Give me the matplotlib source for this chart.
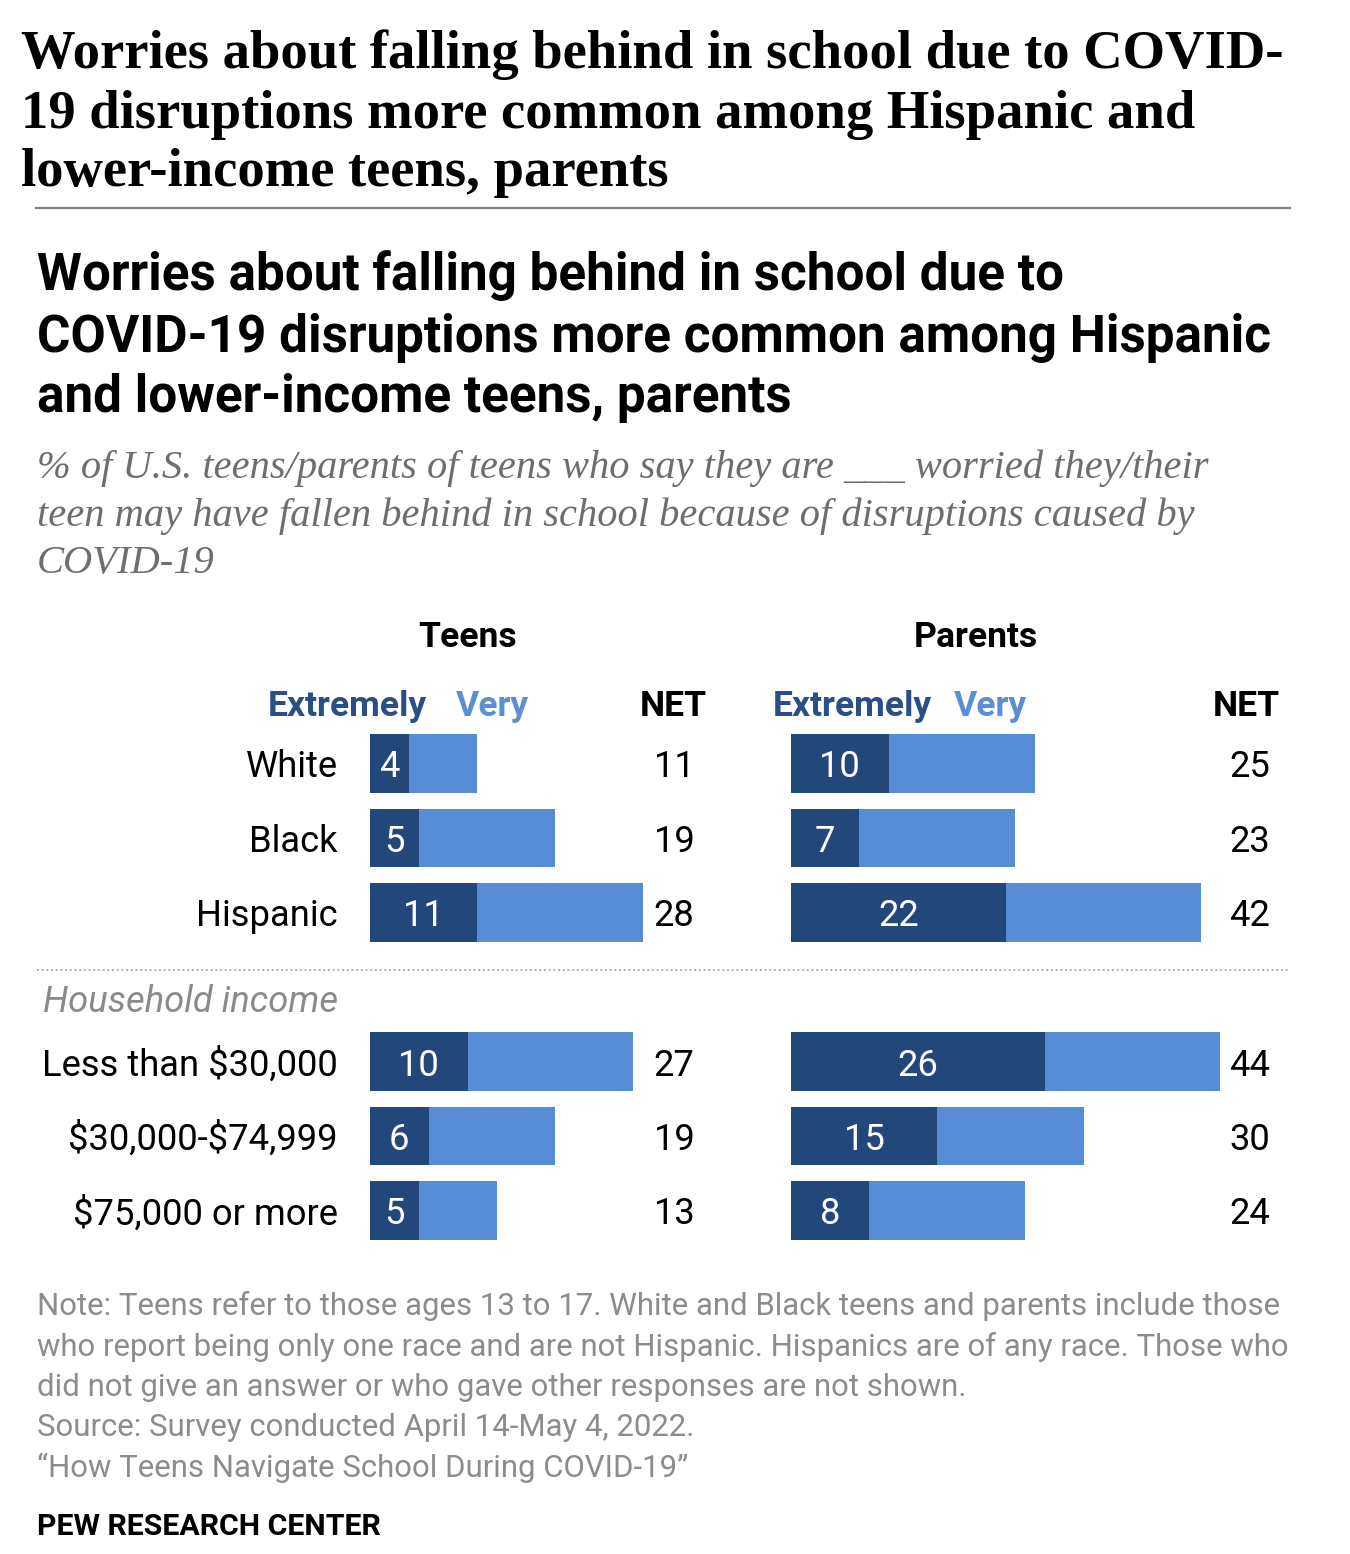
import matplotlib
matplotlib.use("Agg")
import matplotlib.pyplot as plt
from matplotlib.lines import Line2D

# ---------------- data ----------------
groups = ["White", "Black", "Hispanic",
          "Less than $30,000", "$30,000-$74,999", "$75,000 or more"]
teens_extremely = [4, 5, 11, 10, 6, 5]
teens_very = [7, 14, 17, 17, 13, 8]
teens_net = [11, 19, 28, 27, 19, 13]
parents_extremely = [10, 7, 22, 26, 15, 8]
parents_very = [15, 16, 20, 18, 15, 16]
parents_net = [25, 23, 42, 44, 30, 24]
row_pos = [0, 1, 2, 4, 5, 6]

headline = ["Worries about falling behind in school due to COVID-",
            "19 disruptions more common among Hispanic and",
            "lower-income teens, parents"]
title = ["Worries about falling behind in school due to",
         "COVID-19 disruptions more common among Hispanic",
         "and lower-income teens, parents"]
subtitle = ["% of U.S. teens/parents of teens who say they are ___ worried they/their",
            "teen may have fallen behind in school because of disruptions caused by",
            "COVID-19"]
notes = ["Note: Teens refer to those ages 13 to 17. White and Black teens and parents include those",
         "who report being only one race and are not Hispanic. Hispanics are of any race. Those who",
         "did not give an answer or who gave other responses are not shown.",
         "Source: Survey conducted April 14-May 4, 2022.",
         "\u201cHow Teens Navigate School During COVID-19\u201d"]

DARK = "#22477b"
LIGHT = "#568dd4"
DARK_TXT = "#2a4f87"
LIGHT_TXT = "#5a8fd6"

W, H, DPI = 1350, 1554, 100
fig = plt.figure(figsize=(W / DPI, H / DPI), dpi=DPI)
fig.patch.set_facecolor("white")
renderer = fig.canvas.get_renderer()

SANS = ["Roboto", "DejaVu Sans"]
SERIF = ["Liberation Serif", "DejaVu Serif"]


def fx(x):
    return x / W


def fy(y):
    return 1 - y / H


def fit(s, target, **kw):
    t = fig.text(0, 0, s, fontsize=20, parse_math=False, **kw)
    w = t.get_window_extent(renderer).width
    t.remove()
    return 20 * target / w


def put(x, y, s, size, **kw):
    return fig.text(fx(x), fy(y), s, fontsize=size, va="baseline",
                    parse_math=False, **kw)


# ---------------- headline ----------------
hs = fit(headline[0], 1262, family=SERIF, fontweight="bold")
for line, yb in zip(headline, [68, 128, 186]):
    put(21, yb, line, hs, family=SERIF, fontweight="bold", color="black")
fig.add_artist(Line2D([fx(36), fx(1290)], [fy(208), fy(208)],
                      transform=fig.transFigure, color="#808080", lw=1.6))

# ---------------- chart title ----------------
ts = fit(title[0], 1026, family=SANS, fontweight="bold")
for line, yb in zip(title, [290, 352, 412]):
    put(37, yb, line, ts, family=SANS, fontweight="bold", color="black")

ss = fit(subtitle[0], 1173, family=SERIF, style="italic")
for line, yb in zip(subtitle, [478, 526, 573]):
    put(37, yb, line, ss, family=SERIF, style="italic", color="#6e6e6e")

# ---------------- panel headers ----------------
hdr = fit("Extremely", 159, family=SANS, fontweight="bold")
put(468, 647, "Teens", hdr, family=SANS, fontweight="bold", ha="center")
put(976, 647, "Parents", hdr, family=SANS, fontweight="bold", ha="center")
for x0, xv, xn in [(268, 456, 673), (773, 954, 1246)]:
    put(x0, 716, "Extremely", hdr, family=SANS, fontweight="bold", color=DARK_TXT)
    put(xv, 716, "Very", hdr, family=SANS, fontweight="bold", color=LIGHT_TXT)
    put(xn, 716, "NET", hdr, family=SANS, fontweight="bold", ha="center", color="black")

# ---------------- bars ----------------
SCALE = 9.75          # pixels per percentage point
TOP, BOT = 720, 1255
ROW0, PITCH = 763.5, 74.5
ylo = (BOT - ROW0) / PITCH
yhi = (TOP - ROW0) / PITCH
lab = fit("Less than $30,000", 295, family=SANS)


def panel(x_left, x_right, ext, very, net, net_x):
    ax = fig.add_axes([fx(x_left), fy(BOT), (x_right - x_left) / W, (BOT - TOP) / H])
    ax.set_xlim(0, (x_right - x_left) / SCALE)
    ax.set_ylim(ylo, yhi)
    ax.axis("off")
    ax.barh(row_pos, ext, height=0.79, color=DARK, linewidth=0)
    ax.barh(row_pos, very, left=ext, height=0.79, color=LIGHT, linewidth=0)
    for p, e, n in zip(row_pos, ext, net):
        ax.text(e / 2, p, str(e), ha="center", va="center_baseline", color="white",
                fontsize=lab, family=SANS)
        ax.text((net_x - x_left) / SCALE, p, str(n), ha="center", va="center_baseline",
                color="black", fontsize=lab, family=SANS)
    return ax


ax_t = panel(370, 720, teens_extremely, teens_very, teens_net, 674)
ax_p = panel(791, 1290, parents_extremely, parents_very, parents_net, 1250)

for p, g in zip(row_pos, groups):
    ax_t.text((338 - 370) / SCALE, p, g, ha="right", va="center_baseline",
              fontsize=lab, family=SANS, color="black", clip_on=False,
              parse_math=False)
ax_t.text((338 - 370) / SCALE, 3.15, "Household income", ha="right",
          va="center_baseline", fontsize=lab, family=SANS, style="italic",
          color="#8a8a8a", clip_on=False)

fig.add_artist(Line2D([fx(37), fx(1290)], [fy(970), fy(970)],
                      transform=fig.transFigure, color="#a8a8a8", lw=1.3,
                      linestyle=(0, (1, 1.6))))

# ---------------- notes ----------------
ns = fit(notes[0], 1241, family=SANS)
for line, yb in zip(notes, [1315, 1356, 1396, 1436, 1477]):
    put(37, yb, line, ns, family=SANS, color="#8c8c8c")
ps = fit("PEW RESEARCH CENTER", 344, family=SANS, fontweight="bold")
put(37, 1535, "PEW RESEARCH CENTER", ps, family=SANS, fontweight="bold", color="black")

fig.savefig("out.png", dpi=DPI, facecolor="white")
